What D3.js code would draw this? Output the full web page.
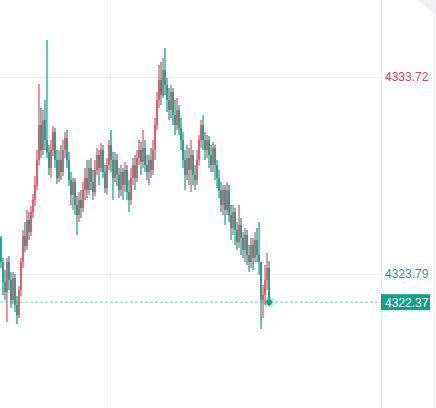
<!DOCTYPE html>
<html><head><meta charset="utf-8">
<script src="https://cdn.jsdelivr.net/npm/d3@7"></script>
<style>html,body{margin:0;padding:0;background:#fff;overflow:hidden}</style>
</head><body>
<svg id="c" width="436" height="408"></svg>
<script>
const opens = [4325.61,4324.40,4323.39,4322.88,4324.40,4323.49,4322.48,4323.59,4322.23,4321.72,4322.98,4324.40,4325.71,4325.20,4326.51,4325.91,4326.92,4327.52,4328.28,4329.54,4331.30,4330.04,4331.55,4330.54,4329.94,4329.13,4330.04,4330.95,4329.54,4328.63,4329.54,4328.93,4330.04,4330.64,4329.54,4328.53,4327.77,4328.43,4327.27,4326.76,4327.52,4327.12,4328.02,4328.63,4328.02,4329.13,4328.43,4327.92,4329.03,4329.79,4329.13,4330.04,4328.93,4328.12,4329.28,4330.29,4329.54,4328.63,4329.54,4328.78,4328.02,4328.93,4328.28,4329.03,4327.92,4327.52,4328.63,4329.28,4328.63,4329.64,4330.04,4329.44,4330.14,4329.28,4328.93,4329.54,4329.03,4330.04,4331.30,4332.56,4333.57,4332.81,4334.07,4333.32,4332.56,4332.06,4332.96,4331.80,4331.30,4332.06,4331.15,4330.54,4329.54,4328.78,4329.64,4329.03,4329.79,4328.78,4328.53,4329.54,4330.54,4331.30,4330.54,4330.04,4330.54,4329.79,4329.28,4330.14,4329.28,4328.63,4328.02,4327.27,4328.02,4327.02,4328.02,4326.76,4326.11,4326.92,4326.01,4325.40,4326.26,4325.61,4325.00,4325.76,4324.75,4324.40,4325.25,4324.60,4325.50,4324.75,4324.40,4322.48,4322.73,4323.49,4324.09];
const closes = [4324.40,4323.39,4322.88,4324.40,4323.49,4322.48,4323.59,4322.23,4321.72,4322.98,4324.40,4325.71,4325.20,4326.51,4325.91,4326.92,4327.52,4328.28,4329.54,4331.30,4330.04,4331.55,4330.54,4329.94,4329.13,4330.04,4330.95,4329.54,4328.63,4329.54,4328.93,4330.04,4330.64,4329.54,4328.53,4327.77,4328.43,4327.27,4326.76,4327.52,4327.12,4328.02,4328.63,4328.02,4329.13,4328.43,4327.92,4329.03,4329.79,4329.13,4330.04,4328.93,4328.12,4329.28,4330.29,4329.54,4328.63,4329.54,4328.78,4328.02,4328.93,4328.28,4329.03,4327.92,4327.52,4328.63,4329.28,4328.63,4329.64,4330.04,4329.44,4330.14,4329.28,4328.93,4329.54,4329.03,4330.04,4331.30,4332.56,4333.57,4332.81,4334.07,4333.32,4332.56,4332.06,4332.96,4331.80,4331.30,4332.06,4331.15,4330.54,4329.54,4328.78,4329.64,4329.03,4329.79,4328.78,4328.53,4329.54,4330.54,4331.30,4330.54,4330.04,4330.54,4329.79,4329.28,4330.14,4329.28,4328.63,4328.02,4327.27,4328.02,4327.02,4328.02,4326.76,4326.11,4326.92,4326.01,4325.40,4326.26,4325.61,4325.00,4325.76,4324.75,4324.40,4325.25,4324.60,4325.50,4324.75,4324.40,4322.48,4322.73,4323.49,4324.09,4322.37];
const highs = [4325.71,4324.60,4323.99,4324.60,4324.70,4323.89,4323.89,4323.79,4322.68,4323.19,4324.60,4326.01,4326.41,4327.02,4326.92,4327.22,4327.82,4328.73,4330.04,4333.37,4332.16,4332.06,4332.56,4335.58,4330.29,4330.54,4331.25,4331.15,4330.04,4330.04,4330.29,4330.54,4330.95,4331.05,4329.94,4328.93,4328.63,4328.63,4327.72,4327.92,4328.02,4328.43,4329.13,4329.54,4329.54,4329.64,4329.03,4329.54,4330.14,4330.04,4330.39,4330.29,4329.28,4329.64,4330.54,4331.05,4329.94,4329.94,4329.84,4329.13,4329.28,4329.13,4329.44,4329.28,4328.53,4329.13,4329.64,4329.79,4330.04,4330.54,4330.44,4331.05,4330.54,4329.79,4329.79,4330.14,4330.54,4331.65,4332.96,4334.32,4334.48,4334.68,4335.18,4333.67,4333.16,4333.32,4333.16,4332.56,4332.66,4332.31,4331.65,4330.95,4330.04,4330.29,4330.14,4330.54,4330.04,4329.28,4330.04,4330.80,4331.55,4331.80,4330.95,4330.80,4330.75,4330.29,4330.44,4330.29,4329.54,4329.03,4328.43,4328.28,4328.28,4328.43,4328.28,4327.27,4327.27,4327.12,4326.41,4327.27,4326.61,4325.91,4326.11,4326.01,4325.25,4325.61,4325.61,4325.91,4326.11,4326.41,4324.40,4323.24,4324.24,4324.85,4324.45];
const lows = [4324.09,4322.73,4322.48,4321.37,4322.98,4322.08,4322.28,4321.88,4321.27,4321.57,4322.68,4324.09,4324.90,4325.00,4325.50,4325.71,4326.61,4327.22,4328.02,4329.28,4329.64,4329.79,4330.04,4329.64,4328.78,4328.63,4329.74,4329.13,4328.33,4328.43,4328.53,4328.73,4329.64,4329.13,4328.23,4327.27,4327.02,4326.76,4325.76,4326.41,4326.61,4326.92,4327.52,4327.62,4327.77,4328.02,4327.52,4327.72,4328.78,4328.28,4328.93,4328.63,4327.87,4327.77,4329.03,4328.93,4327.52,4328.43,4328.23,4327.62,4327.72,4327.52,4327.92,4327.52,4326.92,4327.27,4328.28,4328.02,4328.43,4329.28,4328.78,4329.13,4328.93,4328.53,4328.28,4328.63,4328.78,4329.54,4331.05,4332.16,4332.31,4332.66,4332.81,4331.96,4331.55,4331.65,4331.30,4330.80,4331.05,4330.80,4330.04,4329.13,4328.02,4328.53,4328.28,4327.92,4328.28,4328.02,4328.28,4329.28,4330.14,4330.04,4329.54,4329.64,4329.13,4328.93,4328.93,4328.53,4328.12,4327.62,4326.92,4326.76,4326.26,4326.76,4326.41,4325.50,4325.76,4325.25,4325.00,4325.10,4324.75,4324.60,4324.40,4324.24,4323.89,4324.09,4323.99,4324.40,4324.40,4323.74,4321.02,4321.57,4322.23,4322.98,4322.18];
const gridPrices = [4333.72, 4323.79];
const gridLabels = ["4333.72", "4323.79"];
const lastPrice = 4322.37;
const lastLabel = "4322.37";

const UP = "#e05a6f", DOWN = "#1fa38c";
const svg = d3.select("#c");
const W = 436, H = 408, plotR = 381;
const y = d3.scaleLinear().domain([4333.72, 4323.79]).range([77, 274]);
const x = d3.scaleBand().domain(d3.range(closes.length)).range([0, 270]).paddingInner(0.05);
const data = closes.map((c, i) => ({i, o: opens[i], c, h: highs[i], l: lows[i]}));

// grid
svg.append("line").attr("x1", 110.5).attr("x2", 110.5).attr("y1", 0).attr("y2", H).attr("stroke", "#f3f3f3");
svg.selectAll("line.g").data(gridPrices).join("line").attr("class", "g")
  .attr("x1", 0).attr("x2", plotR).attr("y1", d => Math.round(y(d)) + 0.5).attr("y2", d => Math.round(y(d)) + 0.5)
  .attr("stroke", "#f0f0f0");
svg.append("line").attr("x1", plotR + 0.5).attr("x2", plotR + 0.5).attr("y1", 0).attr("y2", H).attr("stroke", "#ebebeb");
svg.append("line").attr("x1", 434.5).attr("x2", 434.5).attr("y1", 0).attr("y2", H).attr("stroke", "#f2f2f2");

// last price dashed line
svg.append("line").attr("x1", 0).attr("x2", plotR).attr("y1", y(lastPrice)).attr("y2", y(lastPrice))
  .attr("stroke", DOWN).attr("stroke-opacity", 0.7).attr("stroke-dasharray", "3,2").attr("stroke-width", 0.8);

// candles
const cg = svg.append("g");
const col = d => d.c >= d.o ? UP : DOWN;
cg.selectAll("line.w").data(data).join("line").attr("class", "w")
  .attr("x1", d => x(d.i) + x.bandwidth() / 2).attr("x2", d => x(d.i) + x.bandwidth() / 2)
  .attr("y1", d => y(d.h)).attr("y2", d => y(d.l))
  .attr("stroke", col).attr("stroke-width", 1.3);
cg.selectAll("rect").data(data).join("rect")
  .attr("x", d => x(d.i)).attr("width", x.bandwidth())
  .attr("y", d => y(Math.max(d.o, d.c)))
  .attr("height", d => Math.max(1, Math.abs(y(d.o) - y(d.c))))
  .attr("fill", col);

// last point dot
const last = data[data.length - 1];
svg.append("circle").attr("cx", x(last.i) + x.bandwidth() / 2).attr("cy", y(last.c)).attr("r", 5.5)
  .attr("fill", DOWN).attr("opacity", 0.25);
svg.append("circle").attr("cx", x(last.i) + x.bandwidth() / 2).attr("cy", y(last.c)).attr("r", 3)
  .attr("fill", DOWN);

// right labels
const font = "'Liberation Sans', Arial, sans-serif";
svg.selectAll("text.g").data(gridPrices).join("text").attr("class", "g")
  .attr("x", 385).attr("y", d => y(d) + 4).attr("font-family", font).attr("font-size", 12)
  .attr("fill", (d, i) => i === 0 ? "#d0475e" : "#1f9e86")
  .text((d, i) => gridLabels[i]);
svg.append("rect").attr("x", plotR).attr("y", y(lastPrice) - 8).attr("width", 49).attr("height", 16).attr("fill", "#12a086");
svg.append("text").attr("x", 385).attr("y", y(lastPrice) + 4.5).attr("font-family", font).attr("font-size", 12)
  .attr("fill", "#fff").text(lastLabel);

// page curl at top-right
svg.append("path").attr("d", "M418,0 L436,0 L436,16 Z").attr("fill", "#f0f0f2");
</script>
</body></html>
